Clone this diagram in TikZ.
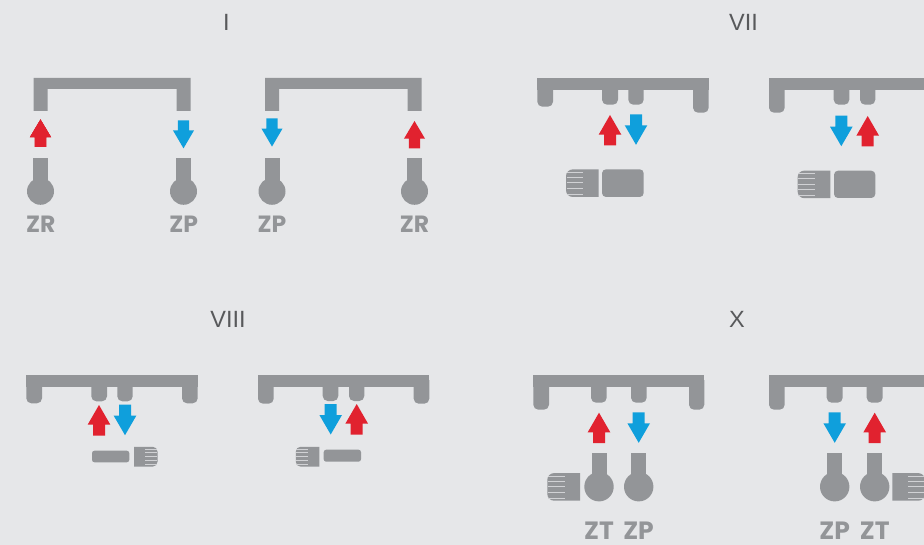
\documentclass[tikz,border=0pt]{standalone}
\usepackage{fontspec}
\setmainfont{Liberation Sans}
\newfontfamily\labelfont{Poppins}
\usepackage{xcolor}
\usepackage{tikz}
\definecolor{panelGray}{RGB}{230,231,233}
\definecolor{pipeGray}{RGB}{147,149,152}
\definecolor{titleGray}{RGB}{88,89,91}
\definecolor{hotRed}{RGB}{225,34,47}
\definecolor{coldBlue}{RGB}{15,159,220}
\tikzset{
  pipe/.style={fill=pipeGray},
  paneltitle/.style={text=titleGray, font=\fontsize{23.5}{25}\selectfont, inner sep=0pt},
  valvelabel/.style={text=pipeGray, font=\labelfont\fontsize{#1}{26}\selectfont\bfseries, inner sep=0pt},
  redarrow/.pic={\fill[hotRed] (0,0)--(11.3,19.6)--(6,19.6)--(6,30.5)--(-6,30.5)--(-6,19.6)--(-11.3,19.6)--cycle;},
  bluearrow/.pic={\fill[coldBlue] (0,30.5)--(11.3,11)--(6,11)--(6,0)--(-6,0)--(-6,11)--(-11.3,11)--cycle;},
  knob/.pic={
    \fill[pipeGray] (0,-13.8)--(-26,-13.8) to[out=180,in=90] (-32.7,-7)--(-32.7,7) to[out=-90,in=180] (-26,13.8)--(0,13.8)--cycle;
    \foreach \yk in {-11,-6,-0.5,5,11}
      \draw[panelGray!75!pipeGray, line width=0.4pt] (-32,\yk)--(-15.5,\yk);
  }
}
% bar with legs: x1, x2, top, bar bottom
\newcommand{\railbar}[4]{\fill[pipe] (#1,#3) rectangle (#2,#4);}
\newcommand{\railleg}[4]{\fill[pipe, rounded corners=5pt] (#1,#3)--(#1,#4)--(#2,#4)--(#2,#3);}
\newcommand{\ballstem}[4]{
  \fill[pipe] ({#1-7.5},#2) rectangle ({#1+7.5},#3);
  \fill[pipe] (#1,#3) circle (#4);
}
\begin{document}
\begin{tikzpicture}[x=1pt,y=-1pt]
\fill[panelGray] (0,0) rectangle (924,545);
\useasboundingbox (0,0) rectangle (924,545);
\clip (0,0) rectangle (924,545);

\node[paneltitle] (titleI) at (226.5,22) {I};
\node[paneltitle] (titleVII) at (743.5,22) {VII};
\node[paneltitle] (titleVIII) at (228,319) {VIII};
\node[paneltitle] (titleX) at (737,319) {X};

% I
\fill[pipe] (33.5,78)--(190.5,78)--(190.5,111)--(176.5,111)--(176.5,89)--(47.5,89)--(47.5,111)--(33.5,111)--cycle;
\fill[pipe] (265,78)--(421.5,78)--(421.5,111)--(407.5,111)--(407.5,89)--(279,89)--(279,111)--(265,111)--cycle;
\foreach \xs in {40.5,183.5,272,414.5}
  \ballstem{\xs}{158}{191.3}{13.5}
\pic[xscale=0.93,yscale=0.9] at (40.5,119.5) {redarrow};
\pic[xscale=0.93,yscale=0.92] at (183.5,120.3) {bluearrow};
\pic[xscale=0.93,yscale=0.92] at (272,118.5) {bluearrow};
\pic[xscale=0.93,yscale=0.9] at (414.5,121) {redarrow};
\node[valvelabel=23.5] (zrA) at (40.7,224) {ZR};
\node[valvelabel=23.5] (zpA) at (183.7,224) {ZP};
\node[valvelabel=23.5] (zpB) at (272,224) {ZP};
\node[valvelabel=23.5] (zrB) at (414.5,224) {ZR};

% VII
\railbar{537.3}{708.7}{78}{90}
\railleg{537.3}{553}{85}{106.7}
\railleg{693}{708.7}{85}{112.7}
\railleg{602}{618}{85}{104.7}
\railleg{628.3}{643.7}{85}{104.7}
\pic at (610,115) {redarrow};
\pic at (636,114.3) {bluearrow};
\pic at (598.7,183.2) {knob};
\fill[pipe, rounded corners=4pt] (602,169.3) rectangle (643.7,197);
\railbar{769}{940}{78}{90}
\railleg{769}{784.7}{85}{112.7}
\railleg{833.7}{849.3}{85}{104.7}
\railleg{860}{875.3}{85}{104.7}
\pic at (841.3,115.7) {bluearrow};
\pic at (867.7,116) {redarrow};
\pic at (830.3,184.4) {knob};
\fill[pipe, rounded corners=4pt] (834,170.7) rectangle (875.3,198);

% VIII
\railbar{26.3}{197.7}{374.7}{386.7}
\railleg{26.3}{42}{380}{403.3}
\railleg{182}{197.7}{380}{403.3}
\railleg{91.3}{107}{380}{401.3}
\railleg{117.3}{132.7}{380}{401.3}
\pic at (99,405) {redarrow};
\pic at (125,404.7) {bluearrow};
\fill[pipe, rounded corners=2.5pt] (92,450.7) rectangle (129.3,462.3);
\pic[xscale=-0.72,yscale=0.72] at (134,456.7) {knob};
\railbar{258}{429.3}{374.7}{386.7}
\railleg{258}{273.7}{380}{403.7}
\railleg{413.7}{429.3}{380}{403.7}
\railleg{322.7}{338.3}{380}{401}
\railleg{349}{364.3}{380}{401}
\pic at (330.7,404) {bluearrow};
\pic at (356.7,404) {redarrow};
\fill[pipe, rounded corners=2.5pt] (323.7,449.7) rectangle (361,461.7);
\pic[scale=0.72] at (319.3,456.7) {knob};

% X
\railbar{533.3}{704.3}{374.7}{387}
\railleg{533.3}{549}{380}{409.7}
\railleg{689}{704.3}{380}{409.7}
\railleg{591}{606.7}{380}{402.7}
\railleg{631}{646.7}{380}{402.7}
\pic at (599,412.7) {redarrow};
\pic at (638.7,412.3) {bluearrow};
\pic at (580,486.9) {knob};
\ballstem{599}{453}{486.7}{14.7}
\ballstem{638.7}{453}{486.7}{14.7}
\node[valvelabel=25] (ztA) at (599,531) {ZT};
\node[valvelabel=25] (zpC) at (638.5,531) {ZP};
\railbar{769}{940}{374.7}{387}
\railleg{769}{784.7}{380}{409.7}
\railleg{826.7}{842.7}{380}{402.7}
\railleg{866.7}{882.7}{380}{402.7}
\pic at (834.7,412.3) {bluearrow};
\pic at (874.7,412.7) {redarrow};
\pic[xscale=-1] at (892.3,486.9) {knob};
\ballstem{834.7}{453}{486.7}{14.7}
\ballstem{874.7}{453}{486.7}{14.7}
\node[valvelabel=25] (zpD) at (834.7,531) {ZP};
\node[valvelabel=25] (ztB) at (874.7,531) {ZT};
\end{tikzpicture}
\end{document}
